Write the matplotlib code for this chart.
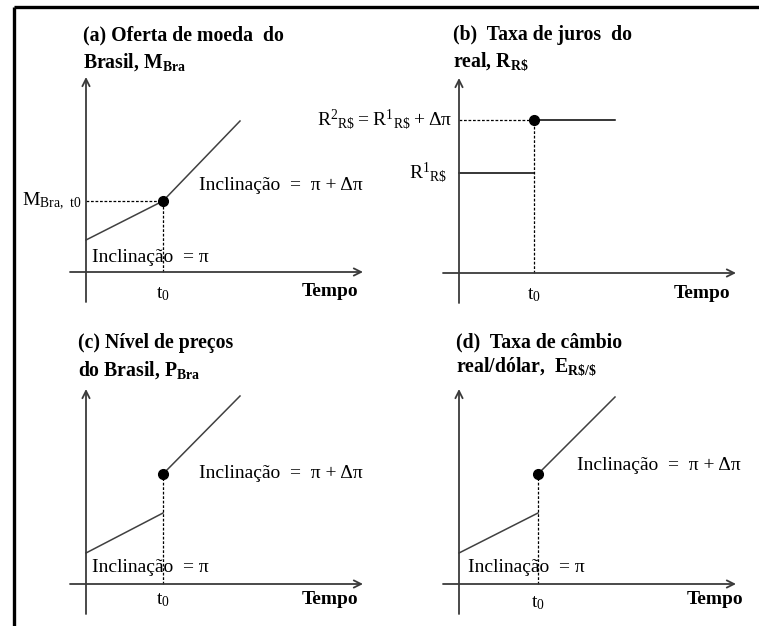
import matplotlib
matplotlib.use("Agg")
import matplotlib.pyplot as plt

plt.rcParams["font.family"] = ["Liberation Serif", "DejaVu Serif"]
plt.rcParams["mathtext.fontset"] = "custom"
plt.rcParams["mathtext.rm"] = "Liberation Serif"

W, H = 759, 626

# --- data (time on x, level on y) ---
# (a) money supply: slope pi before t0, pi + dpi after
a_t_before = [0, 77]
a_m_before = [32, 71]
a_t_after = [77, 154]
a_m_after = [71, 151]

# (b) interest rate on reais: jumps from R1 to R2 at t0
b_t0 = 75
b_t_end = 156
b_r1 = 100
b_r2 = 153

# (c) price level: jumps at t0, then grows faster
c_t_before = [0, 77]
c_p_before = [31, 71]
c_t_after = [77, 154]
c_p_after = [110, 188]

# (d) exchange rate real/dollar
d_t_before = [0, 79]
d_e_before = [31, 71]
d_t_after = [79, 156]
d_e_after = [110, 187]

AX_COL = "#3a3a3a"
LN_COL = "#404040"
TITLE_FS = 14.2
LBL_FS = 14.0

fig = plt.figure(figsize=(W / 100, H / 100), dpi=100)

# outer frame
frame = fig.add_axes([0, 0, 1, 1])
frame.set_xlim(0, W)
frame.set_ylim(H, 0)
frame.axis("off")
frame.plot([14, W], [7, 7], color="black", lw=2.4, solid_capstyle="butt")
frame.plot([14, 14], [7, H], color="black", lw=2.4, solid_capstyle="butt")


def make_panel(box, origin):
    """Axes where one data unit is one pixel, origin at the axis crossing."""
    bx0, by0, bx1, by1 = box
    ox, oy = origin
    ax = fig.add_axes([bx0 / W, 1 - by1 / H, (bx1 - bx0) / W, (by1 - by0) / H])
    ax.set_xlim(bx0 - ox, bx1 - ox)
    ax.set_ylim(oy - by1, oy - by0)
    ax.axis("off")
    ax.patch.set_alpha(0)
    arrow = dict(arrowstyle="->", lw=1.3, color=AX_COL, shrinkA=0, shrinkB=0,
                 mutation_scale=13)
    ax.annotate("", xy=(277, 0), xytext=(-16, 0), arrowprops=arrow)
    ax.annotate("", xy=(0, 195), xytext=(0, -30), arrowprops=arrow)
    return ax


def title(ax, x, y1, y2, line1, line2):
    ax.text(x, y1, line1, fontsize=TITLE_FS, fontweight="bold", ha="left", va="center")
    ax.text(x, y2, line2, fontsize=TITLE_FS, fontweight="bold", ha="left", va="center")


def common(ax, t0, t0_y, tempo_x, tempo_y):
    ax.text(t0, t0_y, r"$\mathregular{t_0}$", fontsize=LBL_FS, ha="center", va="center")
    ax.text(tempo_x, tempo_y, "Tempo", fontsize=LBL_FS, fontweight="bold",
            ha="right", va="center")


dash = dict(color="black", lw=0.9, ls=(0, (2.2, 1.4)))
slope_hi = "Inclinação  =  π + Δπ"
slope_lo = "Inclinação  = π"

# (a)
ax = make_panel((0, 0, 380, 310), (86, 272))
title(ax, -3, 237, 210, "(a) Oferta de moeda  do", r"Brasil, $\mathregular{M_{Bra}}$")
ax.plot(a_t_before, a_m_before, color=LN_COL, lw=1.1)
ax.plot(a_t_after, a_m_after, color=LN_COL, lw=1.1)
ax.plot([0, a_t_before[1]], [a_m_before[1]] * 2, **dash)
ax.plot([a_t_before[1]] * 2, [0, a_m_before[1]], **dash)
ax.plot(a_t_after[0], a_m_after[0], "o", color="black", ms=7)
ax.text(-4, a_m_before[1], r"$\mathregular{M_{Bra,\ t0}}$", fontsize=LBL_FS,
        ha="right", va="center")
ax.text(113, 87, slope_hi, fontsize=LBL_FS, ha="left", va="center")
ax.text(6, 15, slope_lo, fontsize=LBL_FS, ha="left", va="center")
common(ax, 77, -22, 272, -19)

# (b)
ax = make_panel((380, 0, 759, 310), (459, 273))
title(ax, -6, 238, 211, "(b)  Taxa de juros  do", r"real, $\mathregular{R_{R\$}}$")
ax.plot([0, b_t0], [b_r1, b_r1], color="black", lw=1.1)
ax.plot([b_t0, b_t_end], [b_r2, b_r2], color="black", lw=1.1)
ax.plot([0, b_t0], [b_r2, b_r2], **dash)
ax.plot([b_t0, b_t0], [0, b_r2], **dash)
ax.plot(b_t0, b_r2, "o", color="black", ms=7)
ax.text(-7, b_r2, r"$\mathregular{R^{2}{}_{R\$} = R^{1}{}_{R\$} + Δπ}$", fontsize=LBL_FS,
        ha="right", va="center")
ax.text(-12, b_r1, r"$\mathregular{R^{1}{}_{R\$}}$", fontsize=LBL_FS,
        ha="right", va="center")
common(ax, b_t0, -22, 271, -20)

# (c)
ax = make_panel((0, 310, 380, 626), (86, 584))
title(ax, -8, 241, 214, "(c) Nível de preços", r"do Brasil, $\mathregular{P_{Bra}}$")
ax.plot(c_t_before, c_p_before, color=LN_COL, lw=1.1)
ax.plot(c_t_after, c_p_after, color=LN_COL, lw=1.1)
ax.plot([c_t_after[0]] * 2, [0, c_p_after[0]], **dash)
ax.plot(c_t_after[0], c_p_after[0], "o", color="black", ms=7)
ax.text(113, 111, slope_hi, fontsize=LBL_FS, ha="left", va="center")
ax.text(6, 16, slope_lo, fontsize=LBL_FS, ha="left", va="center")
common(ax, 77, -16, 272, -16)

# (d)
ax = make_panel((380, 310, 759, 626), (459, 584))
title(ax, -3, 242, 217, "(d)  Taxa de câmbio", r"real/dólar,  $\mathregular{E_{R\$/\$}}$")
ax.plot(d_t_before, d_e_before, color=LN_COL, lw=1.1)
ax.plot(d_t_after, d_e_after, color=LN_COL, lw=1.1)
ax.plot([d_t_after[0]] * 2, [0, d_e_after[0]], **dash)
ax.plot(d_t_after[0], d_e_after[0], "o", color="black", ms=7)
ax.text(118, 119, slope_hi, fontsize=LBL_FS, ha="left", va="center")
ax.text(9, 16, slope_lo, fontsize=LBL_FS, ha="left", va="center")
common(ax, 79, -19, 284, -15)

fig.savefig("out.png", dpi=100)
